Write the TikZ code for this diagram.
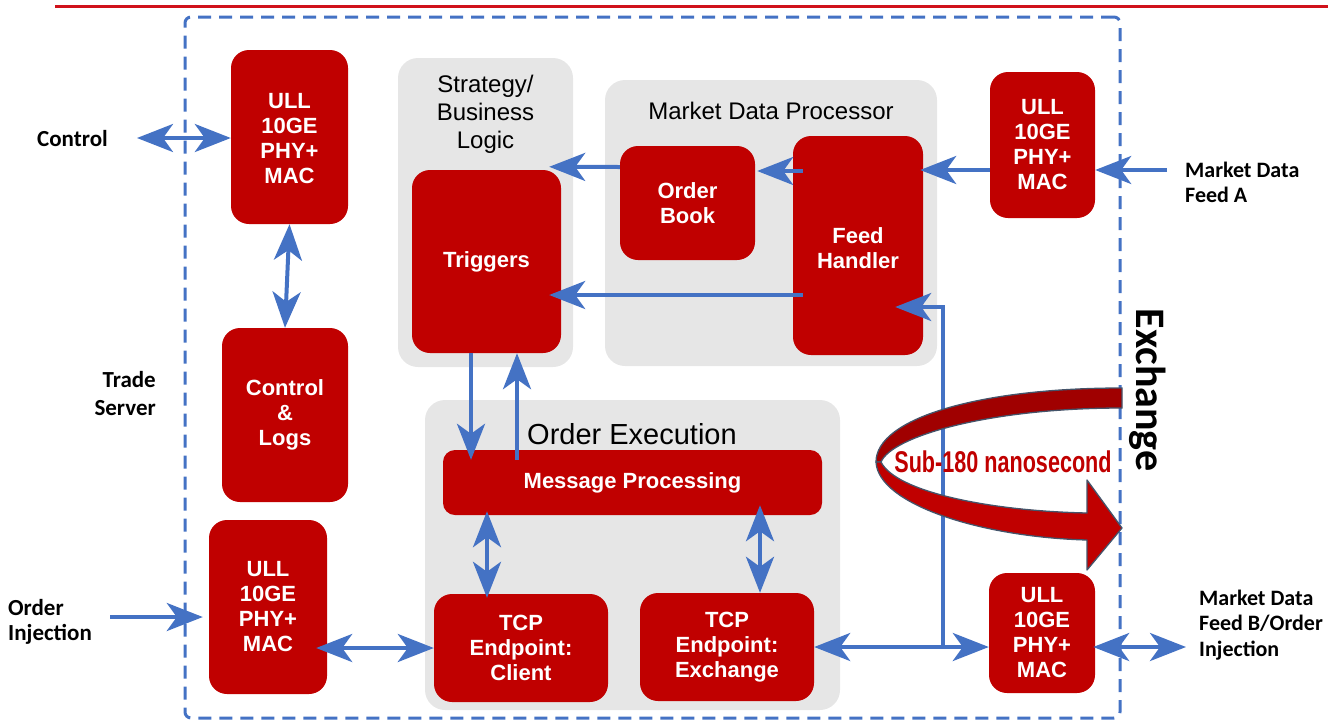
\documentclass[tikz,border=0pt]{standalone}
\usepackage{fontspec}
\usepackage{graphicx}
\setmainfont{Liberation Sans}
\newfontfamily\calfont{Carlito}
\usetikzlibrary{arrows.meta,calc}
\definecolor{bblue}{HTML}{4472C4}
\definecolor{dred}{HTML}{C00000}
\definecolor{ddred}{HTML}{A00000}
\definecolor{gbox}{HTML}{E6E6E6}
\definecolor{topred}{HTML}{D0121B}
\definecolor{ribline}{HTML}{44546A}
\begin{document}
\begin{tikzpicture}[x=1pt,y=-1pt,
  redbox/.style={fill=dred, draw=none, rounded corners=18pt, text=white, align=center,
    font=\bfseries\fontsize{22}{25}\selectfont, inner sep=0pt},
  graybox/.style={fill=gbox, draw=none, rounded corners=20pt, inner sep=0pt},
  conn/.style={draw=bblue, line width=4pt},
  arr/.style={conn, -{Stealth[length=36pt,width=28pt,inset=10pt]}},
  dbl/.style={conn, {Stealth[length=36pt,width=28pt,inset=10pt]}-{Stealth[length=36pt,width=28pt,inset=10pt]}},
  lbl/.style={font=\calfont\bfseries\fontsize{23}{25}\selectfont, inner sep=0pt},
  ttl/.style={font=\fontsize{24}{28}\selectfont, align=center, inner sep=0pt}
]
\useasboundingbox (0,0) rectangle (1336,721);
% top red line
\draw[topred, line width=3pt] (55,6) -- (1328,6);
% trade server boundary
\node[draw=bblue, line width=3pt, dash pattern=on 13pt off 8pt, rounded corners=6pt,
  minimum width=935pt, minimum height=701pt, inner sep=0pt] (srv) at (652.5,367.5) {};

% gray groups
\node[graybox, minimum width=175pt, minimum height=309pt] (strat) at (485.5,212.5) {};
\node[graybox, minimum width=332pt, minimum height=286pt] (mdp) at (771,223) {};
\node[graybox, minimum width=415pt, minimum height=310pt] (oe) at (632.5,555) {};
\node[ttl] (strattl) at (485.5,114) {Strategy/\\Business\\Logic};
\node[ttl] (mdptl) at (771,111) {Market Data Processor};
\node[ttl, font=\fontsize{29}{32}\selectfont] (oetl) at (632,434) {Order Execution};

% red boxes
\node[redbox, minimum width=117pt, minimum height=174pt] (ull1) at (289.5,137) {\strut ULL\\10GE\\PHY+\\MAC};
\node[redbox, minimum width=126pt, minimum height=174pt] (logs) at (285,415) {Control\\\&\\Logs};
\node[redbox, minimum width=118pt, minimum height=174pt] (ull2) at (268,607) {ULL\\10GE\\PHY+\\MAC};
\node[redbox, minimum width=149pt, minimum height=183pt] (trig) at (486.5,261.5) {Triggers};
\node[redbox, minimum width=135pt, minimum height=114pt] (ob) at (687.5,203) {Order\\Book};
\node[redbox, minimum width=130pt, minimum height=219pt] (fh) at (858,245.5) {};
\node[font=\bfseries\fontsize{22}{25}\selectfont, text=white, align=center, inner sep=0pt] (fhtxt) at (858,248) {Feed\\Handler};
\node[redbox, minimum width=105pt, minimum height=146pt] (ull3) at (1042.5,145) {ULL\\10GE\\PHY+\\MAC};
\node[redbox, minimum width=379pt, minimum height=65pt, rounded corners=12pt] (mp) at (632.5,482.5) {Message Processing};
\node[redbox, minimum width=174pt, minimum height=108pt] (tcpc) at (521,648) {TCP\\Endpoint:\\Client};
\node[redbox, minimum width=174pt, minimum height=108pt] (tcpe) at (727,647) {TCP\\Endpoint:\\Exchange};
\node[redbox, minimum width=106pt, minimum height=120pt] (ull4) at (1042,633) {ULL\\10GE\\PHY+\\MAC};

% outside labels
\node[lbl, anchor=west, align=left] (ctrl) at (37,139) {Control};
\node[lbl, anchor=east, align=right, font=\calfont\bfseries\fontsize{23}{28}\selectfont] (trade) at (156,394) {Trade\\Server};
\node[lbl, anchor=west, align=left] (oi) at (8,622) {Order\\Injection};
\node[lbl, anchor=west, align=left, font=\calfont\bfseries\fontsize{22}{25}\selectfont] (mdfa) at (1185,182) {Market Data\\Feed A};
\node[lbl, anchor=west, align=left, font=\calfont\bfseries\fontsize{22}{25.5}\selectfont] (mdfb) at (1199,625) {Market Data\\Feed B/Order\\Injection};

% free ends
\coordinate (cS) at (137,138);
\coordinate (oiS) at (110,617);
\coordinate (faS) at (1167,170);
\coordinate (fbE) at (1186,647);
\coordinate (jn) at (943,647);

% connectors
\draw[dbl] (cS) -- (ull1.west |- cS);
\draw[dbl] (ull1.south) -- (logs.north);
\draw[arr] (oiS) -- ($(ull2.west |- oiS)+(-6,0)$);
\draw[dbl] ($(ull2.east)+(-11,41)$) -- (tcpc.west);
\draw[arr] (faS) -- (ull3.east |- faS);
\draw[arr] (ull3.west |- faS) -- ($(fh.east |- faS)+(-3,0)$);
\draw[arr] ($(fh.west)+(10,-74.5)$) -- ($(ob.east)+(2,-32)$);
\draw[arr] ($(ob.west)+(0,-36)$) -- ($(trig.north east)+(-12,-3)$);
\draw[arr] ($(fh.west)+(10,49.5)$) -- ($(trig.east)+(-12,33.5)$);
\draw[arr] ($(trig.south)+(-15.5,0)$) -- ($(mp.north)+(-161.5,10)$);
\draw[arr] ($(mp.north)+(-115.5,10)$) -- ($(trig.south)+(30.5,0)$);
\draw[dbl] ($(mp.south)+(-145.5,-4)$) -- ($(tcpc.north)+(-34,4)$);
\draw[dbl] ($(mp.south)+(127.5,-10)$) -- ($(tcpe.north)+(33,0)$);
\draw[conn] (jn) |- ($(fh.east)+(-10,61.5)$);
\draw[arr] ($(fh.east)+(0,61.5)$) -- ($(fh.east)+(-28,61.5)$);
\draw[dbl] (tcpe.east) -- (tcpe.east -| ull4.west);
\draw[dbl] ($(ull4.east |- tcpe.east)+(-2,0)$) -- (fbE);

% latency ribbon
\filldraw[fill=ddred, draw=ribline, line width=1.3pt]
  (1122,388) .. controls (980,388) and (876,418) .. (876,462)
  -- (881,462) .. controls (892,436) and (990,408) .. (1122,408) -- cycle;
\filldraw[fill=dred, draw=ribline, line width=1.3pt, line join=round]
  (876,462) .. controls (878,504) and (980,537) .. (1087,540)
  -- (1087,570) -- (1122,528) -- (1087,480) -- (1087,513)
  .. controls (990,511) and (896,492) .. (881,462) -- cycle;
\node[text=dred, font=\bfseries\fontsize{30}{30}\selectfont, inner sep=0pt] (sub) at (1003,462)
  {\scalebox{0.72}[1]{Sub-180 nanosecond}};
\node[rotate=-90, font=\calfont\bfseries\fontsize{42}{42}\selectfont, inner sep=0pt] (exch) at (1148,390) {Exchange};
\end{tikzpicture}
\end{document}
